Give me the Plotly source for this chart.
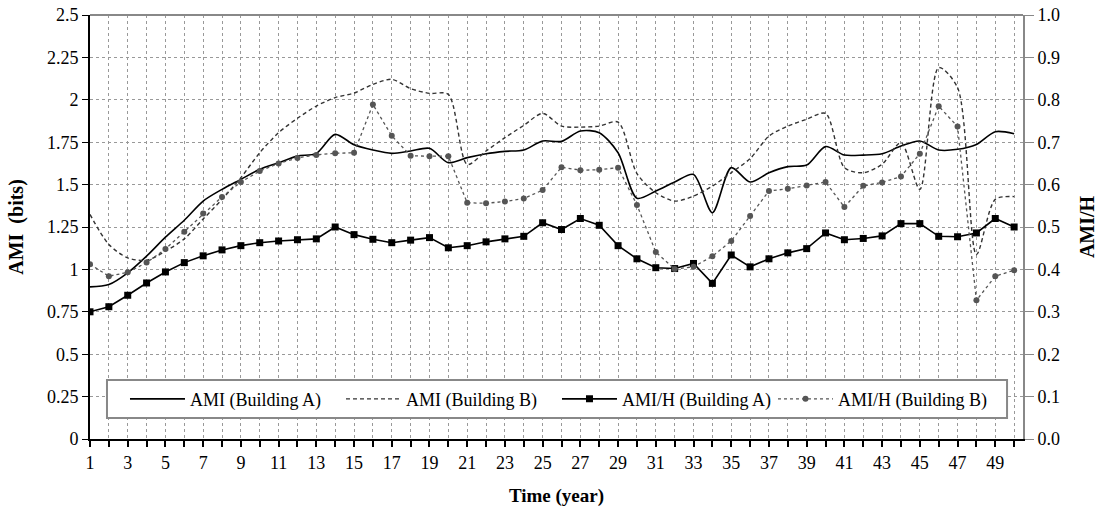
import plotly.graph_objects as go

years = list(range(1, 51))

ami_a = [0.897, 0.911, 0.98, 1.078, 1.19, 1.29, 1.403, 1.472, 1.531, 1.59,
         1.629, 1.668, 1.684, 1.796, 1.735, 1.704, 1.684, 1.698, 1.714, 1.629,
         1.659, 1.682, 1.696, 1.704, 1.757, 1.755, 1.816, 1.806, 1.688, 1.42,
         1.462, 1.515, 1.56, 1.334, 1.6, 1.515, 1.57, 1.606, 1.615, 1.724,
         1.674, 1.674, 1.682, 1.727, 1.757, 1.704, 1.708, 1.737, 1.812, 1.8]

ami_b = [1.324, 1.147, 1.068, 1.054, 1.107, 1.18, 1.297, 1.413, 1.541, 1.688,
         1.806, 1.891, 1.963, 2.013, 2.04, 2.091, 2.121, 2.066, 2.038, 2.032,
         1.619, 1.698, 1.777, 1.849, 1.92, 1.845, 1.839, 1.845, 1.869, 1.565,
         1.452, 1.403, 1.432, 1.491, 1.57, 1.653, 1.786, 1.845, 1.885, 1.92,
         1.6, 1.57, 1.62, 1.747, 1.472, 2.19, 2.072, 1.088, 1.413, 1.429]

amih_a = [0.300, 0.312, 0.339, 0.368, 0.394, 0.416, 0.432, 0.446, 0.456, 0.463,
          0.467, 0.470, 0.472, 0.500, 0.482, 0.471, 0.463, 0.469, 0.475, 0.451,
          0.456, 0.465, 0.472, 0.478, 0.510, 0.494, 0.520, 0.504, 0.456, 0.425,
          0.404, 0.402, 0.414, 0.367, 0.434, 0.406, 0.425, 0.439, 0.449, 0.486,
          0.470, 0.473, 0.479, 0.508, 0.508, 0.478, 0.477, 0.486, 0.520, 0.500]

amih_b = [0.412, 0.384, 0.393, 0.416, 0.448, 0.489, 0.532, 0.571, 0.606, 0.632,
          0.650, 0.663, 0.670, 0.674, 0.675, 0.789, 0.715, 0.668, 0.667, 0.667,
          0.557, 0.556, 0.560, 0.567, 0.587, 0.641, 0.634, 0.635, 0.640, 0.552,
          0.441, 0.401, 0.406, 0.431, 0.467, 0.526, 0.585, 0.590, 0.598, 0.606,
          0.547, 0.597, 0.605, 0.619, 0.673, 0.785, 0.737, 0.327, 0.384, 0.398]

x_tickvals = list(range(1, 51))
x_ticktext = [str(v) if v % 2 == 1 else "" for v in x_tickvals]
y_tickvals = [0, 0.25, 0.5, 0.75, 1, 1.25, 1.5, 1.75, 2, 2.25, 2.5]
y_ticktext = ["0", "0.25", "0.5", "0.75", "1", "1.25", "1.5", "1.75", "2", "2.25", "2.5"]
y2_tickvals = [0, 0.1, 0.2, 0.3, 0.4, 0.5, 0.6, 0.7, 0.8, 0.9, 1.0]

FONT = "Liberation Serif"

fig = go.Figure()
fig.add_trace(go.Scatter(x=years, y=ami_a, name="AMI (Building A)", mode="lines",
                         line=dict(color="black", width=1.6, shape="spline", smoothing=0.8)))
fig.add_trace(go.Scatter(x=years, y=ami_b, name="AMI (Building B)", mode="lines",
                         line=dict(color="#333333", width=1.4, dash="4px,3px", shape="spline", smoothing=0.8)))
fig.add_trace(go.Scatter(x=years, y=amih_a, name="AMI/H (Building A)", mode="lines+markers",
                         yaxis="y2",
                         line=dict(color="black", width=1.6),
                         marker=dict(symbol="square", size=7, color="black")))
fig.add_trace(go.Scatter(x=years, y=amih_b, name="AMI/H (Building B)", mode="lines+markers",
                         yaxis="y2",
                         line=dict(color="#555555", width=1.3, dash="dot"),
                         marker=dict(symbol="circle", size=6, color="#555555")))

fig.update_layout(
    width=1105, height=515,
    margin=dict(l=90, r=82, t=15, b=76),
    paper_bgcolor="white", plot_bgcolor="white",
    font=dict(family=FONT, size=18, color="black"),
    showlegend=True,
    legend=dict(orientation="h", x=0.0375, xanchor="left", y=0.094, yanchor="middle",
                bgcolor="rgba(0,0,0,0)", borderwidth=0,
                font=dict(family=FONT, size=18, color="black"),
                itemwidth=55, entrywidth=146, entrywidthmode="pixels",
                tracegroupgap=0),
    xaxis=dict(range=[1, 50.47], tickvals=x_tickvals, ticktext=x_ticktext,
               showgrid=True, gridcolor="#999999", griddash="dot", gridwidth=1,
               showline=True, linecolor="black", linewidth=2,
               ticks="outside", ticklen=6, tickcolor="black", tickwidth=1.5,
               zeroline=False, automargin=False,
               tickfont=dict(family=FONT, size=18),
               title=dict(text="<b>Time (year)</b>", font=dict(family=FONT, size=19), standoff=17)),
    yaxis=dict(range=[0, 2.5], tickvals=y_tickvals, ticktext=y_ticktext,
               showgrid=True, gridcolor="#999999", griddash="dot", gridwidth=1,
               showline=True, linecolor="black", linewidth=2,
               ticks="outside", ticklen=6, tickcolor="black", tickwidth=1,
               zeroline=False, automargin=False,
               tickfont=dict(family=FONT, size=18),
               title=dict(text="<b>AMI  (bits)</b>", font=dict(family=FONT, size=20), standoff=18)),
    yaxis2=dict(range=[0, 1.0], tickvals=y2_tickvals, tickformat=".1f",
                overlaying="y", side="right", showgrid=False,
                showline=True, linecolor="#888888", linewidth=2,
                ticks="outside", ticklen=9, tickcolor="#888888", tickwidth=1,
                zeroline=False, automargin=False,
                tickfont=dict(family=FONT, size=18),
                title=dict(text="<b>AMI/H</b>", font=dict(family=FONT, size=20), standoff=21)),
    shapes=[
        dict(type="line", xref="paper", yref="paper", x0=0, x1=1, y0=1, y1=1,
             line=dict(color="#888888", width=2)),
        dict(type="rect", xref="paper", yref="paper", x0=0.0182, x1=0.9829, y0=0.0495, y1=0.139,
             fillcolor="white", line=dict(color="#888888", width=2), layer="above"),
    ],
)

fig.write_html("out.html", post_script="document.body.style.margin='0';",
               config={"displayModeBar": False})
